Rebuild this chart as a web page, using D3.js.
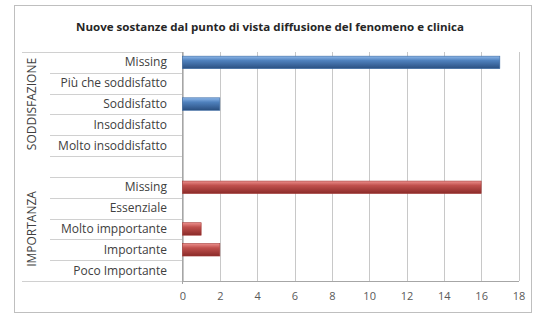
<!DOCTYPE html>
<html><head><meta charset="utf-8">
<script src="https://cdn.jsdelivr.net/npm/d3@7"></script>
<style>body{margin:0;background:#fff}svg{display:block}</style>
</head><body>
<svg id="c" width="537" height="315"></svg>
<script>
const title = "Nuove sostanze dal punto di vista diffusione del fenomeno e clinica";
const group1 = "SODDISFAZIONE";
const categories1 = ["Missing","Più che soddisfatto","Soddisfatto","Insoddisfatto","Molto insoddisfatto"];
const values1 = [17,0,2,0,0];
const group2 = "IMPORTANZA";
const categories2 = ["Missing","Essenziale","Molto impportante","Importante","Poco Importante"];
const values2 = [16,0,1,2,0];
const ticks = [0,2,4,6,8,10,12,14,16,18];

const svg = d3.select("#c");
const font = "'Open Sans', 'Liberation Sans', sans-serif";
svg.append("rect").attr("x",14.5).attr("y",5.5).attr("width",517).attr("height",307)
  .attr("fill","#fff").attr("stroke","#bfbfbf");

svg.append("text").attr("x",270).attr("y",31).attr("text-anchor","middle")
  .attr("font-family",font).attr("font-weight","bold").attr("font-size",10.5)
  .attr("fill","#262626").attr("textLength",388).attr("lengthAdjust","spacingAndGlyphs").text(title);

const rows = [];
categories1.forEach((c,i)=>rows.push({key:"a"+i,label:c,v:values1[i],g:0}));
rows.push({key:"gap",label:"",v:null,g:-1});
categories2.forEach((c,i)=>rows.push({key:"b"+i,label:c,v:values2[i],g:1}));

const x = d3.scaleLinear().domain([0,18]).range([182.5,518.5]);
const y = d3.scaleBand().domain(rows.map(r=>r.key)).range([52,281]).paddingInner(0).paddingOuter(0);

const defs = svg.append("defs");
function grad(id, c1, c2, c3){
  const g = defs.append("linearGradient").attr("id",id).attr("x1",0).attr("y1",0).attr("x2",0).attr("y2",1);
  g.append("stop").attr("offset","0%").attr("stop-color",c1);
  g.append("stop").attr("offset","35%").attr("stop-color",c2);
  g.append("stop").attr("offset","100%").attr("stop-color",c3);
}
grad("gb","#8fb8ea","#4f81bd","#2a4f80");
grad("gr","#ec8f8c","#c0504d","#8a2b29");

// gridlines
svg.append("g").selectAll("line").data(ticks).join("line")
  .attr("x1",d=>Math.round(x(d))+0.5).attr("x2",d=>Math.round(x(d))+0.5)
  .attr("y1",52).attr("y2",281).attr("stroke","#c8c8c8");

// category boundary lines
const bounds = d3.range(rows.length+1);
svg.append("g").selectAll("line").data(bounds).join("line")
  .attr("x1",d=>(d===0||d===rows.length)?22:50).attr("x2",182)
  .attr("y1",d=>Math.round(52+d*y.step())+0.5).attr("y2",d=>Math.round(52+d*y.step())+0.5)
  .attr("stroke","#d0d0d0");

// axes lines
svg.append("line").attr("x1",182.5).attr("x2",182.5).attr("y1",52).attr("y2",284).attr("stroke","#a6a6a6");
svg.append("line").attr("x1",182).attr("x2",519).attr("y1",281.5).attr("y2",281.5).attr("stroke","#a6a6a6");

// bars
const bh = y.bandwidth()*0.6;
svg.append("g").selectAll("rect").data(rows.filter(r=>r.v)).join("rect")
  .attr("x",x(0)).attr("width",d=>x(d.v)-x(0))
  .attr("y",d=>y(d.key)+(y.bandwidth()-bh)/2).attr("height",bh)
  .attr("fill",d=>d.g===0?"url(#gb)":"url(#gr)")
  .attr("stroke",d=>d.g===0?"#3a6aa3":"#a33a37").attr("stroke-width",0.6);

// category labels
svg.append("g").selectAll("text").data(rows.filter(r=>r.label)).join("text")
  .attr("x",167).attr("y",d=>y(d.key)+y.bandwidth()/2+4)
  .attr("text-anchor","end").attr("font-family",font).attr("font-size",12)
  .attr("fill","#404040").text(d=>d.label);

// group labels
[[group1,0,5],[group2,6,11]].forEach(([t,a,b])=>{
  const cy = 52 + (a+b)/2*y.step();
  svg.append("text").attr("transform",`translate(36,${cy}) rotate(-90)`)
    .attr("text-anchor","middle").attr("font-family",font).attr("font-size",12)
    .attr("fill","#404040").text(t);
});

// x ticks
const xa = d3.axisBottom(x).tickValues(ticks).tickSize(0).tickPadding(11);
const gx = svg.append("g").attr("transform","translate(0,281)").call(xa);
gx.select(".domain").remove();
gx.selectAll("text").attr("font-family",font).attr("font-size",11).attr("fill","#595959");
</script>
</body></html>
